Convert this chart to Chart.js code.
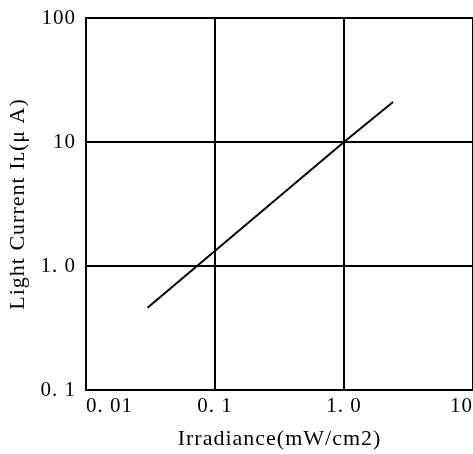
<!DOCTYPE html>
<html><head><meta charset="utf-8">
<script src="https://cdn.jsdelivr.net/npm/chart.js@4/dist/chart.umd.min.js"></script>
<style>html,body{margin:0;padding:0;background:#fff;}canvas{display:block}</style>
</head><body>
<canvas id="c" width="473" height="454"></canvas>
<script>
const irradiance = [0.03, 1.0, 2.4];
const lightCurrent = [0.46, 10, 21];
const xTickValues = [0.01, 0.1, 1, 10];
const xTickLabels = ['0. 01', '0. 1', '1. 0', '10'];
const yTickValues = [0.1, 1, 10, 100];
const yTickLabels = ['0. 1', '1. 0', '10', '100'];
const xTitle = 'Irradiance(mW/cm2)';
const yTitle = 'Light Current I\u029F(\u03BC A)';

const serif = "'Liberation Serif', 'DejaVu Serif', serif";
const points = irradiance.map((x, i) => ({x: x, y: lightCurrent[i]}));

const spacingPlugin = {
  id: 'spacing',
  beforeDraw(chart) { chart.ctx.letterSpacing = '1px'; }
};

new Chart(document.getElementById('c'), {
  type: 'scatter',
  data: {datasets: [{
    data: points, showLine: true, borderColor: '#000', borderWidth: 2,
    pointRadius: 0, fill: false, tension: 0
  }]},
  plugins: [spacingPlugin],
  options: {
    responsive: false, animation: false, devicePixelRatio: 1,
    layout: {padding: {top: 18, right: 0, left: 0, bottom: 0}},
    plugins: {legend: {display: false}, tooltip: {enabled: false}},
    scales: {
      x: {
        type: 'logarithmic', min: 0.01, max: 10,
        afterBuildTicks: s => { s.ticks = xTickValues.map(v => ({value: v})); },
        afterFit: s => { s.height = 64; s.paddingLeft = 0; s.paddingRight = 0; },
        ticks: {
          color: '#000', font: {family: serif, size: 21}, padding: 4,
          maxRotation: 0, autoSkip: false, align: 'inner',
          callback: (v) => { const i = xTickValues.findIndex(t => Math.abs(t - v) < 1e-9); return i >= 0 ? xTickLabels[i] : ''; }
        },
        grid: {color: '#000', lineWidth: 2, drawTicks: false},
        border: {display: true, color: '#000', width: 2},
        title: {display: true, text: xTitle, color: '#000', font: {family: serif, size: 22}, padding: {top: 0, bottom: 2}}
      },
      y: {
        type: 'logarithmic', min: 0.1, max: 100,
        afterBuildTicks: s => { s.ticks = yTickValues.map(v => ({value: v})); },
        afterFit: s => { s.width = 86; s.paddingTop = 0; s.paddingBottom = 0; },
        ticks: {
          color: '#000', font: {family: serif, size: 21}, padding: 10,
          autoSkip: false,
          callback: (v) => { const i = yTickValues.findIndex(t => Math.abs(t - v) < 1e-9); return i >= 0 ? yTickLabels[i] : ''; }
        },
        grid: {color: '#000', lineWidth: 2, drawTicks: false},
        border: {display: true, color: '#000', width: 2},
        title: {display: true, text: yTitle, color: '#000', font: {family: serif, size: 22}, padding: {top: 5, bottom: 0}}
      }
    }
  }
});
</script>
</body></html>
